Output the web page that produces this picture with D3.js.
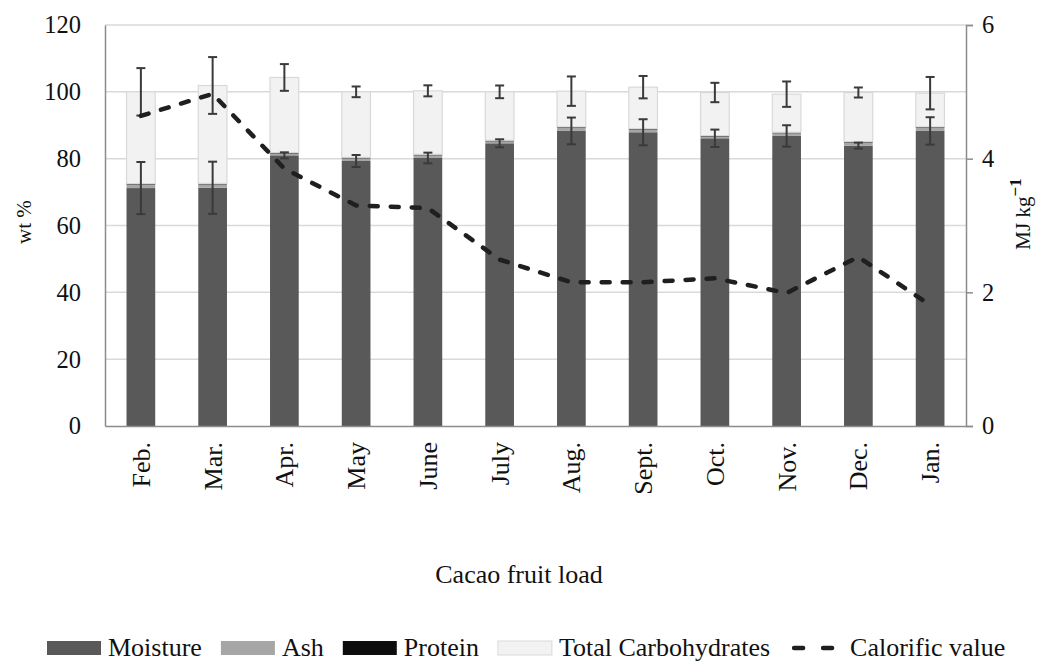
<!DOCTYPE html>
<html>
<head>
<meta charset="utf-8">
<script src="https://cdn.jsdelivr.net/npm/d3@7/dist/d3.min.js"></script>
<style>
  html, body { margin: 0; padding: 0; background: #fff; }
  svg text { font-family: "Liberation Serif", Tinos, "Times New Roman", Times, serif; }
</style>
</head>
<body>
<svg id="chart" width="1038" height="661"></svg>
<script>
// Monthly composition of cacao fruit load (wt %) and calorific value (MJ/kg)
const months = ["Feb.", "Mar.", "Apr.", "May", "June", "July", "Aug.", "Sept.", "Oct.", "Nov.", "Dec.", "Jan."];
const moisture = [71.2, 71.3, 81.0, 79.3, 80.2, 84.6, 88.3, 87.9, 86.1, 86.8, 83.9, 88.3];
const ash      = [1.0, 1.0, 0.5, 0.8, 0.8, 0.6, 0.9, 0.8, 0.5, 0.8, 0.9, 0.9];
const protein  = [0.3, 0.3, 0.3, 0.3, 0.3, 0.3, 0.3, 0.3, 0.3, 0.3, 0.3, 0.3];
const carbs    = [27.5, 29.3, 22.5, 19.6, 19.0, 14.5, 10.7, 12.4, 12.9, 11.4, 14.7, 10.1];
const moistureErr = [7.8, 7.8, 0.9, 1.8, 1.6, 1.2, 4.0, 3.9, 2.6, 3.2, 0.9, 4.1];
const carbsErr    = [7.1, 8.5, 4.0, 1.6, 1.65, 1.9, 4.4, 3.35, 2.9, 3.8, 1.5, 4.85];
const calorific   = [4.64, 4.97, 3.85, 3.30, 3.26, 2.49, 2.15, 2.15, 2.21, 1.99, 2.53, 1.81];
const leftTicks  = [0, 20, 40, 60, 80, 100, 120];
const rightTicks = [0, 2, 4, 6];

const seriesNames = ["Moisture", "Ash", "Protein", "Total Carbohydrates"];
const seriesColors = ["#595959", "#a6a6a6", "#0d0d0d", "#f2f2f2"];

const FONT = "'Liberation Serif', Tinos, 'Times New Roman', Times, serif";

const svg = d3.select("#chart");
const plot = { left: 105, right: 966, top: 25, bottom: 426 };

const x = d3.scaleBand().domain(months).range([plot.left, plot.right])
  .paddingInner(0.6).paddingOuter(0.3);
const y = d3.scaleLinear().domain([0, 120]).range([plot.bottom, plot.top]);
const y2 = d3.scaleLinear().domain([0, 6]).range([plot.bottom, plot.top]);

// Horizontal gridlines
svg.append("g").selectAll("line").data(leftTicks.filter(d => d > 0)).join("line")
  .attr("x1", plot.left).attr("x2", plot.right)
  .attr("y1", d => y(d)).attr("y2", d => y(d))
  .attr("stroke", "#d9d9d9").attr("stroke-width", 1.5);

// Stacked columns
const rows = months.map((m, i) => ({
  month: m,
  "Moisture": moisture[i], "Ash": ash[i], "Protein": protein[i], "Total Carbohydrates": carbs[i]
}));
const stacked = d3.stack().keys(seriesNames)(rows);

svg.append("g").selectAll("g").data(stacked).join("g")
  .attr("fill", (d, i) => seriesColors[i])
  .attr("stroke", (d, i) => i === 3 ? "#d9d9d9" : "none")
  .attr("stroke-width", 1.2)
  .selectAll("rect").data(d => d).join("rect")
  .attr("x", d => x(d.data.month))
  .attr("width", x.bandwidth())
  .attr("y", d => y(d[1]))
  .attr("height", d => y(d[0]) - y(d[1]));

// Error bars at the top of moisture and at the top of the full stack
const errData = [];
months.forEach((m, i) => {
  errData.push({ month: m, v: stacked[0][i][1], e: moistureErr[i] });
  errData.push({ month: m, v: stacked[3][i][1], e: carbsErr[i] });
});
const eg = svg.append("g").attr("stroke", "#3a3a3a").attr("stroke-width", 2);
const cap = 4.5;
errData.forEach(d => {
  const cx = x(d.month) + x.bandwidth() / 2;
  eg.append("line").attr("x1", cx).attr("x2", cx).attr("y1", y(d.v + d.e)).attr("y2", y(d.v - d.e));
  eg.append("line").attr("x1", cx - cap).attr("x2", cx + cap).attr("y1", y(d.v + d.e)).attr("y2", y(d.v + d.e));
  eg.append("line").attr("x1", cx - cap).attr("x2", cx + cap).attr("y1", y(d.v - d.e)).attr("y2", y(d.v - d.e));
});

// Calorific value line on the secondary axis
const line = d3.line()
  .x((d, i) => x(months[i]) + x.bandwidth() / 2)
  .y(d => y2(d));
svg.append("path").datum(calorific)
  .attr("d", line)
  .attr("fill", "none")
  .attr("stroke", "#1f1f1f")
  .attr("stroke-width", 4.5)
  .attr("stroke-linecap", "round")
  .attr("stroke-dasharray", "8,13");

// Axes
const axisColor = "#8c8c8c";
const leftAxis = svg.append("g").attr("transform", `translate(${plot.left},0)`)
  .call(d3.axisLeft(y).tickValues(leftTicks).tickSize(0).tickPadding(24));
const rightAxis = svg.append("g").attr("transform", `translate(${plot.right},0)`)
  .call(d3.axisRight(y2).tickValues(rightTicks).tickFormat(d3.format("d")).tickSize(7).tickPadding(9));
const bottomAxis = svg.append("g").attr("transform", `translate(0,${plot.bottom})`)
  .call(d3.axisBottom(x).tickSize(0).tickPadding(16));

[leftAxis, rightAxis, bottomAxis].forEach(g => {
  g.attr("font-family", FONT);
  g.select(".domain").attr("stroke", axisColor).attr("stroke-width", 1.5);
  g.selectAll(".tick line").attr("stroke", axisColor).attr("stroke-width", 1.5);
  g.selectAll("text").attr("fill", "#111");
});
leftAxis.attr("font-size", 24.5);
rightAxis.attr("font-size", 24.5);
bottomAxis.attr("font-size", 26);
bottomAxis.selectAll("text")
  .attr("transform", "rotate(-90)")
  .attr("text-anchor", "end")
  .attr("x", -16).attr("y", 0).attr("dy", "0.35em");

// Axis titles
svg.append("text")
  .attr("transform", "translate(31,222) rotate(-90)")
  .attr("text-anchor", "middle")
  .attr("font-size", 21).attr("fill", "#111")
  .text("wt %");

const rt = svg.append("text")
  .attr("transform", "translate(1030,214) rotate(-90)")
  .attr("text-anchor", "middle")
  .attr("font-size", 21).attr("fill", "#111");
rt.append("tspan").text("MJ kg");
rt.append("tspan").attr("dy", -9).attr("font-size", 17).attr("font-weight", "bold").text("\u22121");

svg.append("text")
  .attr("x", 519).attr("y", 583)
  .attr("text-anchor", "middle")
  .attr("font-size", 26).attr("fill", "#111")
  .text("Cacao fruit load");

// Legend
const legendItems = seriesNames.map((n, i) => ({ name: n, color: seriesColors[i], type: "bar" }))
  .concat([{ name: "Calorific value", type: "line" }]);
const legend = svg.append("g").attr("font-size", 26).attr("fill", "#111");
let lx = 47;
const ly = 641;
legendItems.forEach(item => {
  const g = legend.append("g");
  if (item.type === "bar") {
    g.append("rect").attr("x", lx).attr("y", ly).attr("width", 54).attr("height", 14)
      .attr("fill", item.color)
      .attr("stroke", item.name === "Total Carbohydrates" ? "#d9d9d9" : "none");
  } else {
    g.append("line").attr("x1", lx + 5).attr("x2", lx + 50).attr("y1", ly + 7).attr("y2", ly + 7)
      .attr("stroke", "#1f1f1f").attr("stroke-width", 4.5)
      .attr("stroke-linecap", "round").attr("stroke-dasharray", "9,20");
  }
  const t = g.append("text").attr("x", lx + 61).attr("y", ly + 15).text(item.name);
  lx += 61 + t.node().getComputedTextLength() + 19;
});
</script>
</body>
</html>
